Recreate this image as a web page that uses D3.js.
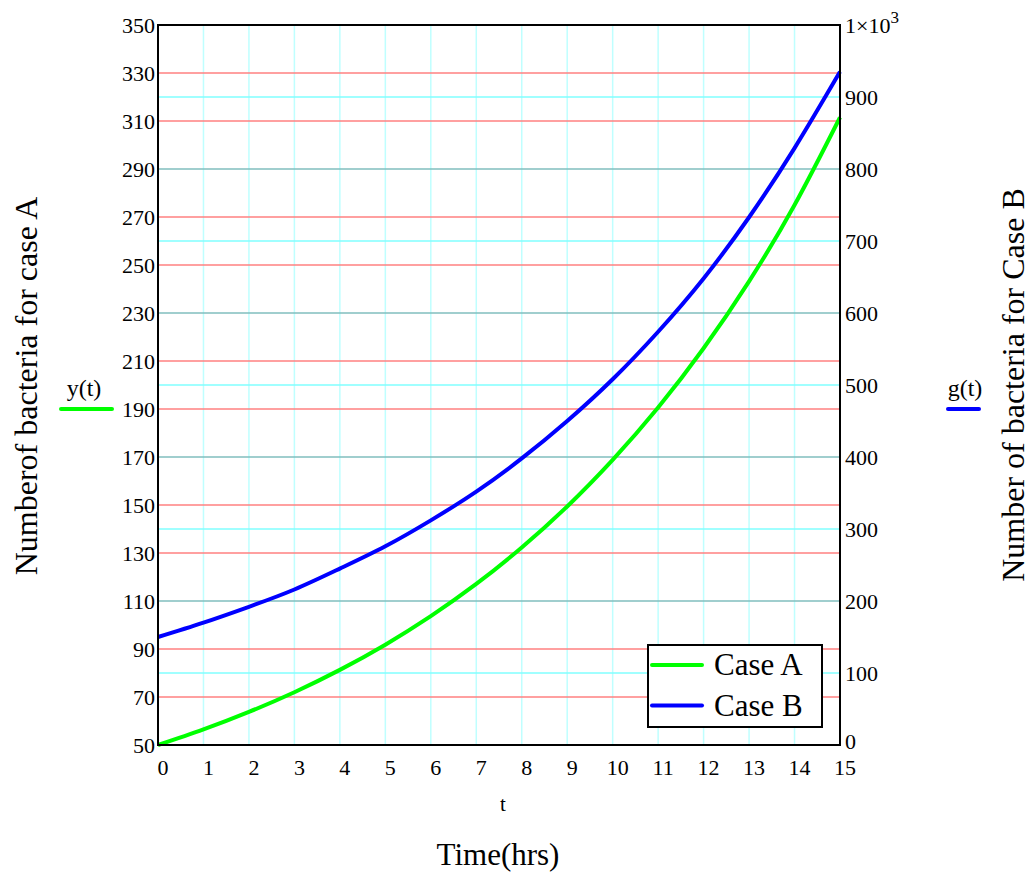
<!DOCTYPE html>
<html>
<head>
<meta charset="utf-8">
<script src="https://cdn.jsdelivr.net/npm/d3@7"></script>
<style>
  body { margin: 0; background: #fff; }
  text { font-family: "Liberation Serif", "Times New Roman", serif; fill: #000; }
</style>
</head>
<body>
<svg id="chart" width="1031" height="875"></svg>
<script>
// hours
const hours = [0, 1, 2, 3, 4, 5, 6, 7, 8, 9, 10, 11, 12, 13, 14, 15];
// case A, y(t), left axis
const caseA = [50, 56.5, 63.8, 72, 81.3, 91.8, 103.7, 117.1, 132.3, 149.4, 168.8, 190.6, 215.3, 243.2, 275, 311.5];
// case B, g(t), right axis
const caseB = [150, 170, 192, 216, 245, 276, 312, 352, 398, 450, 508, 574, 648, 733, 829, 935];

const xTicks = d3.range(0, 16);
const leftTicks = d3.range(50, 351, 20);
const rightTicks = d3.range(0, 1000, 100);

const margin = { top: 25, right: 191, bottom: 130, left: 158 };
const width = 1031, height = 875;

const svg = d3.select("#chart");

const x = d3.scaleLinear().domain([0, 15]).range([margin.left, width - margin.right]);
const yL = d3.scaleLinear().domain([50, 350]).range([height - margin.bottom, margin.top]);
const yR = d3.scaleLinear().domain([0, 1000]).range([height - margin.bottom, margin.top]);

const x0 = x(0), x1 = x(15), yB = yL(50), yT = yL(350);

// vertical grid
svg.append("g").selectAll("line")
    .data(xTicks.filter(d => d > 0 && d < 15))
    .enter().append("line")
    .attr("x1", d => x(d)).attr("x2", d => x(d))
    .attr("y1", yT).attr("y2", yB)
    .attr("stroke", "#bfffff").attr("stroke-width", 1.5);

// right axis grid (cyan), where it meets the left grid it turns teal
const leftGridPx = leftTicks.filter(d => d > 50 && d < 350).map(d => Math.round(yL(d)));
svg.append("g").selectAll("line")
    .data(rightTicks.filter(d => d > 0))
    .enter().append("line")
    .attr("x1", x0).attr("x2", x1)
    .attr("y1", d => yR(d)).attr("y2", d => yR(d))
    .attr("stroke", d => leftGridPx.includes(Math.round(yR(d))) ? "#80bebe" : "#80ffff")
    .attr("stroke-width", 1.5);

// left axis grid (red)
const rightGridPx = rightTicks.map(d => Math.round(yR(d)));
svg.append("g").selectAll("line")
    .data(leftTicks.filter(d => d > 50 && d < 350 && !rightGridPx.includes(Math.round(yL(d)))))
    .enter().append("line")
    .attr("x1", x0).attr("x2", x1)
    .attr("y1", d => yL(d)).attr("y2", d => yL(d))
    .attr("stroke", "#ff8080").attr("stroke-width", 1.5);

// curves
const lineA = d3.line().x((d, i) => x(hours[i])).y(d => yL(d)).curve(d3.curveNatural);
const lineB = d3.line().x((d, i) => x(hours[i])).y(d => yR(d)).curve(d3.curveNatural);

svg.append("path").datum(caseA).attr("d", lineA)
    .attr("fill", "none").attr("stroke", "#00ff00").attr("stroke-width", 4);
svg.append("path").datum(caseB).attr("d", lineB)
    .attr("fill", "none").attr("stroke", "#0000ff").attr("stroke-width", 4);

// frame
svg.append("rect")
    .attr("x", x0).attr("y", yT).attr("width", x1 - x0).attr("height", yB - yT)
    .attr("fill", "none").attr("stroke", "#000").attr("stroke-width", 2);

// tick labels
svg.append("g").selectAll("text")
    .data(leftTicks).enter().append("text")
    .attr("x", x0 - 3).attr("y", d => yL(d)).attr("dy", "0.35em")
    .attr("text-anchor", "end").attr("font-size", 22)
    .text(d => d);

svg.append("g").selectAll("text")
    .data(rightTicks).enter().append("text")
    .attr("x", x1 + 5).attr("y", d => yR(d)).attr("dy", d => d === 0 ? "0.2em" : "0.35em")
    .attr("font-size", 22)
    .text(d => d);

const topLabel = svg.append("text")
    .attr("x", x1 + 5).attr("y", yT).attr("dy", "0.35em")
    .attr("font-size", 22);
topLabel.append("tspan").text("1\u00d710");
topLabel.append("tspan").attr("font-size", 17).attr("dy", "-0.6em").text("3");

svg.append("g").selectAll("text")
    .data(xTicks).enter().append("text")
    .attr("x", d => x(d) + 5).attr("y", yB + 30)
    .attr("text-anchor", "middle").attr("font-size", 22)
    .text(d => d);

// axis titles
svg.append("text").attr("x", 503).attr("y", 811)
    .attr("text-anchor", "middle").attr("font-size", 21).text("t");
svg.append("text").attr("x", 498).attr("y", 865)
    .attr("text-anchor", "middle").attr("font-size", 31).text("Time(hrs)");

svg.append("text")
    .attr("transform", "translate(37,386) rotate(-90)")
    .attr("text-anchor", "middle").attr("font-size", 32)
    .text("Numberof bacteria for case A");
svg.append("text")
    .attr("transform", "translate(1024,385) rotate(-90)")
    .attr("text-anchor", "middle").attr("font-size", 32)
    .text("Number of bacteria for Case B");

// trace keys beside the axes
svg.append("text").attr("x", 84).attr("y", 396)
    .attr("text-anchor", "middle").attr("font-size", 24).text("y(t)");
svg.append("line").attr("x1", 61).attr("x2", 112).attr("y1", 409).attr("y2", 409)
    .attr("stroke", "#00ff00").attr("stroke-width", 4).attr("stroke-linecap", "round");
svg.append("text").attr("x", 965).attr("y", 396)
    .attr("text-anchor", "middle").attr("font-size", 24).text("g(t)");
svg.append("line").attr("x1", 948).attr("x2", 979).attr("y1", 409).attr("y2", 409)
    .attr("stroke", "#0000ff").attr("stroke-width", 4).attr("stroke-linecap", "round");

// legend
const legend = svg.append("g");
legend.append("rect")
    .attr("x", 648).attr("y", 645).attr("width", 174).attr("height", 82)
    .attr("fill", "#fff").attr("stroke", "#000").attr("stroke-width", 2);
const items = [{ name: "Case A", color: "#00ff00" }, { name: "Case B", color: "#0000ff" }];
items.forEach((it, i) => {
    const yy = 665 + i * 40.5;
    legend.append("line").attr("x1", 652).attr("x2", 702).attr("y1", yy).attr("y2", yy)
        .attr("stroke", it.color).attr("stroke-width", 4).attr("stroke-linecap", "round");
    legend.append("text").attr("x", 714).attr("y", yy + 10)
        .attr("font-size", 31).text(it.name);
});
</script>
</body>
</html>
